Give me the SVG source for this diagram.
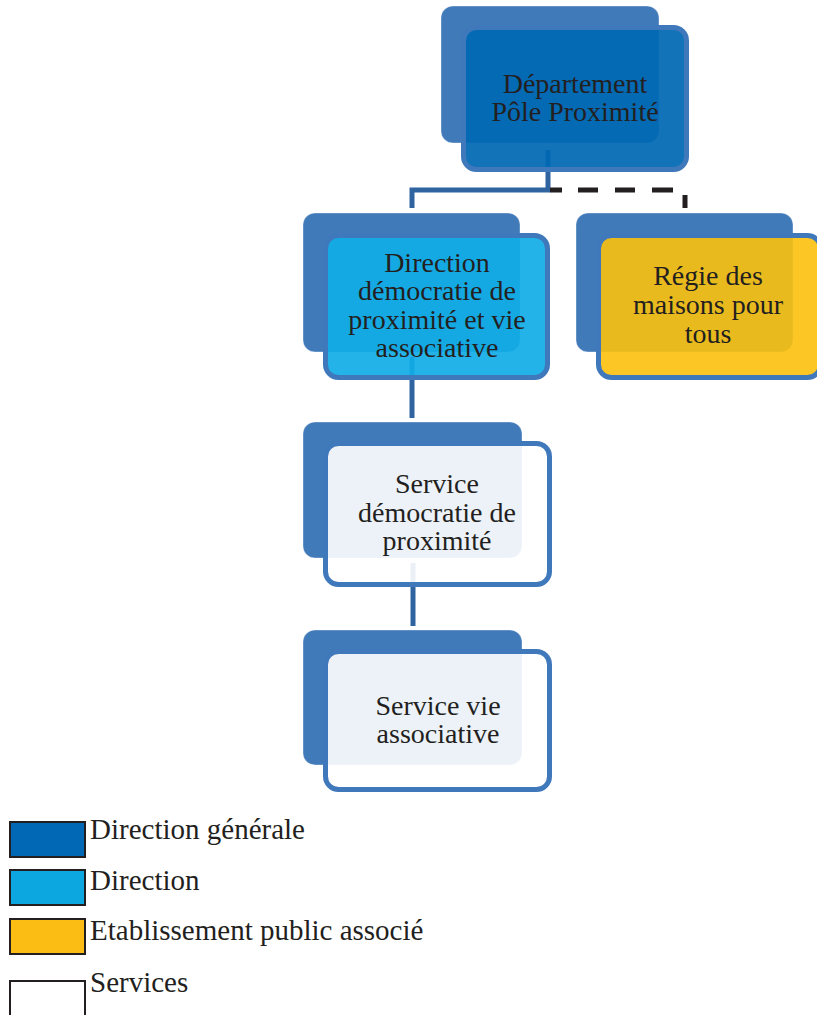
<svg xmlns="http://www.w3.org/2000/svg" width="817" height="1015" viewBox="0 0 817 1015">
<style>
.back{fill:#417ab9;stroke:#ffffff;stroke-opacity:0.35;stroke-width:1}
.front{stroke:#4079bb;stroke-width:5}
.t{font-family:"Liberation Serif","Times New Roman",Tinos,"Nimbus Roman","DejaVu Serif",serif;font-size:28px;fill:#231f20;text-anchor:middle}
.lg{font-family:"Liberation Serif","Times New Roman",Tinos,"Nimbus Roman","DejaVu Serif",serif;font-size:29px;fill:#231f20}
.conn{fill:none;stroke:#2f64a0;stroke-width:5}
.dash{fill:none;stroke:#231f20;stroke-width:5}
.box{stroke:#231f20;stroke-width:2}
</style>
<rect width="817" height="1015" fill="#ffffff"/>
<g id="connectors">
<path class="conn" d="M548 150 V190 H412 V208"/>
<path class="dash" d="M550 190 H673" stroke-dasharray="12 16 20 17 20 17 22 100"/>
<path class="dash" d="M685 195 V208"/>
<path class="conn" d="M412 357 V418"/>
<path class="conn" d="M413 563 V626"/>
</g>
<g id="node-departement">
<rect class="back" x="441" y="6" width="218" height="137" rx="12"/>
<rect class="front" x="463.5" y="27.5" width="223" height="142" rx="13" fill="#0068b4" fill-opacity="0.93"/>
<text class="t" x="575" y="93">Département</text>
<text class="t" x="575" y="121">Pôle Proximité</text>
</g>
<g id="node-direction">
<rect class="back" x="303" y="213" width="217" height="139" rx="12"/>
<rect class="front" x="325.5" y="235.5" width="222" height="142" rx="13" fill="#10ade6" fill-opacity="0.92"/>
<text class="t" x="437" y="272">Direction</text>
<text class="t" x="437" y="300">démocratie de</text>
<text class="t" x="437" y="329">proximité et vie</text>
<text class="t" x="437" y="357">associative</text>
</g>
<g id="node-regie">
<rect class="back" x="576" y="213" width="217" height="139" rx="12"/>
<rect class="front" x="598.5" y="235.5" width="222" height="142" rx="13" fill="#fcc10d" fill-opacity="0.9"/>
<text class="t" x="708" y="285">Régie des</text>
<text class="t" x="708" y="314">maisons pour</text>
<text class="t" x="708" y="343">tous</text>
</g>
<g id="node-service-democratie">
<rect class="back" x="303" y="422" width="219" height="136" rx="12"/>
<rect class="front" x="325.5" y="443.5" width="224" height="141" rx="13" fill="#ffffff" fill-opacity="0.9"/>
<text class="t" x="437" y="493">Service</text>
<text class="t" x="437" y="522">démocratie de</text>
<text class="t" x="437" y="550">proximité</text>
</g>
<g id="node-service-vie">
<rect class="back" x="303" y="630" width="219" height="135" rx="12"/>
<rect class="front" x="325.5" y="651.5" width="224" height="138" rx="13" fill="#ffffff" fill-opacity="0.9"/>
<text class="t" x="438" y="715">Service vie</text>
<text class="t" x="438" y="743">associative</text>
</g>
<g id="legend">
<rect class="box" x="10" y="822" width="75" height="35" fill="#0068b4"/>
<text class="lg" x="90" y="839">Direction générale</text>
<rect class="box" x="10" y="870" width="75" height="35" fill="#0ca6e0"/>
<text class="lg" x="90" y="890">Direction</text>
<rect class="box" x="10" y="919" width="75" height="35" fill="#fbbd13"/>
<text class="lg" x="90" y="940">Etablissement public associé</text>
<rect class="box" x="10" y="981" width="75" height="35" fill="#ffffff"/>
<text class="lg" x="90" y="992">Services</text>
</g>
</svg>
